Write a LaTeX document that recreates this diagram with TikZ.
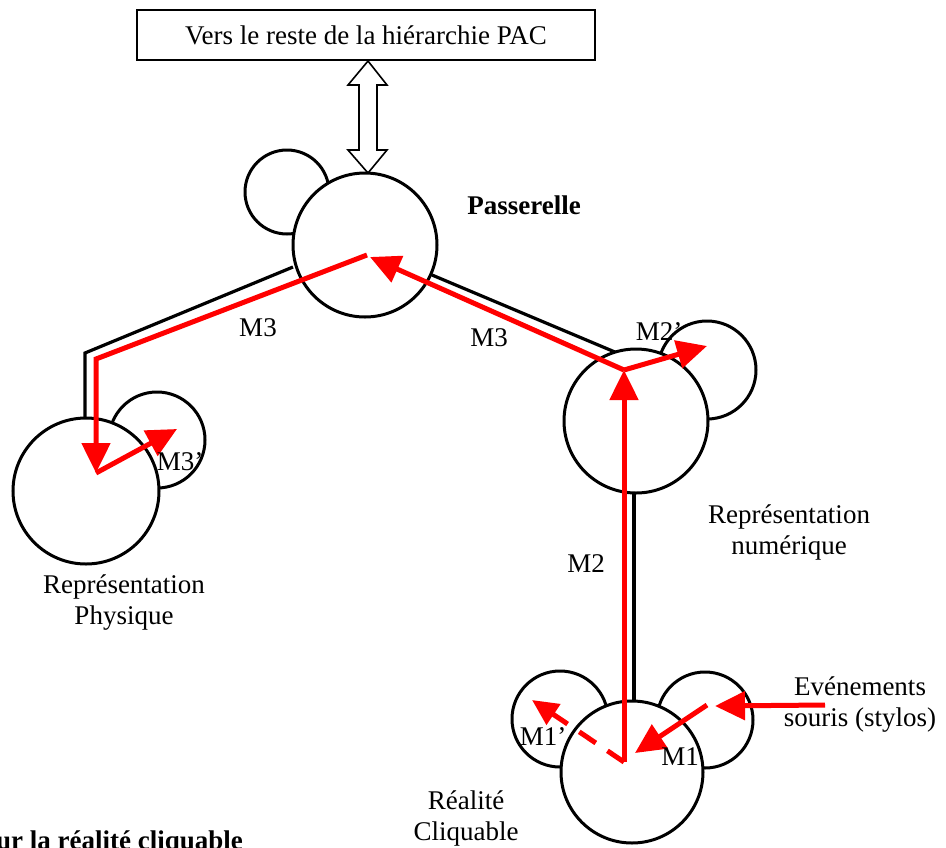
\documentclass[tikz,border=0pt]{standalone}
\usepackage{fontspec}
\setmainfont{Liberation Serif}
\usetikzlibrary{arrows.meta}
\definecolor{redline}{RGB}{255,0,0}
\begin{document}
\begin{tikzpicture}[x=1pt,y=-1pt,
  every node/.style={font=\fontsize{27}{31}\selectfont, inner sep=0pt},
  ring/.style={circle, draw, line width=3pt, fill=white, inner sep=0pt},
  link/.style={line width=3.2pt, line join=miter},
  flow/.style={draw=redline, line width=5pt, -{Triangle[length=30pt,width=28pt]}},
  flowplain/.style={draw=redline, line width=5pt},
  lbl/.style={align=center}]
\useasboundingbox (0,0) rectangle (946,847);
\clip (0,0) rectangle (946,847);
% top box
\node[draw, line width=1.8pt, minimum width=458pt, minimum height=50pt] (pac) at (366,35) {Vers le reste de la hi\'erarchie PAC};
% hollow double arrow
\draw[line width=1.6pt, fill=white] (368,61) -- (387,85) -- (377,85) -- (377,150) -- (387,150) -- (368,173)
  -- (348,150) -- (359,150) -- (359,85) -- (348,85) -- cycle;
% connector coordinates (black)
\coordinate (b1) at (293,267);
\coordinate (b2) at (85,353);
\coordinate (b3) at (85,423);
\coordinate (b4) at (432,275);
\coordinate (b5) at (622,355);
\coordinate (b6) at (634,491);
\coordinate (b7) at (634,703);
\draw[link] (b1) -- (b2) -- (b3);
\draw[link] (b4) -- (b5);
\draw[link] (b6) -- (b7);
% small circles
\node[ring, minimum size=84pt] (passS) at (287,192) {};
\node[ring, minimum size=96pt] (physS) at (157,440) {};
\node[ring, minimum size=98pt] (numS) at (707,370) {};
\node[ring, minimum size=96pt] (realL) at (560,719) {};
\node[ring, minimum size=96pt] (realR) at (705,720) {};
% main circles
\node[ring, minimum size=144pt] (pass) at (365,245) {};
\node[ring, minimum size=146pt] (phys) at (86,491) {};
\node[ring, minimum size=144pt] (num) at (636,421) {};
\node[ring, minimum size=142pt] (real) at (632,772) {};
% red flow coordinates
\coordinate (r1) at (367,255);
\coordinate (r2) at (96,359);
\coordinate (r3) at (96,473);
\coordinate (r4) at (177,429);
\coordinate (r5) at (624,370);
\coordinate (r6) at (370,257);
\coordinate (r7) at (707,346);
\coordinate (r8) at (624,762);
\coordinate (r9) at (532,700);
\coordinate (r10) at (707,705);
\coordinate (r11) at (635,753);
\coordinate (r12) at (825,705);
\coordinate (r13) at (715,706);
\draw[flow] (r1) -- (r2) -- (r3);
\draw[flow] (r3) -- (r4);
\draw[flow] (r5) -- (r6);
\draw[flow] (r5) -- (r7);
\draw[flow] (r8) -- (r5);
\draw[flowplain, dash pattern=on 20pt off 14pt, -{Triangle[length=26pt,width=24pt]}] (r8) -- (r9);
\draw[flow] (r10) -- (r11);
\draw[flow] (r12) -- (r13);
% labels
\node[font=\fontsize{27}{31}\selectfont\bfseries] (lpass) at (524,205) {Passerelle};
\node (lm3a) at (258,328) {M3};
\node (lm3b) at (489,338) {M3};
\node (lm2p) at (659,332) {M2'};
\node (lm3p) at (180,462) {M3'};
\node (lm2) at (586,564) {M2};
\node (lm1) at (680,757) {M1};
\node (lm1p) at (543,737) {M1'};
\node[lbl] (lphys) at (124,603) {Repr\'esentation\\Physique};
\node[lbl] (lnum) at (789,532) {Repr\'esentation\\num\'erique};
\node[lbl] (lreal) at (466,818) {R\'ealit\'e\\Cliquable};
\node[lbl] (lev) at (860,705) {Ev\'enements\\souris (stylos)};
\node[anchor=base east, font=\fontsize{27}{31}\selectfont\bfseries] (lcap) at (243,849) {pour la r\'ealit\'e cliquable};
\end{tikzpicture}
\end{document}
